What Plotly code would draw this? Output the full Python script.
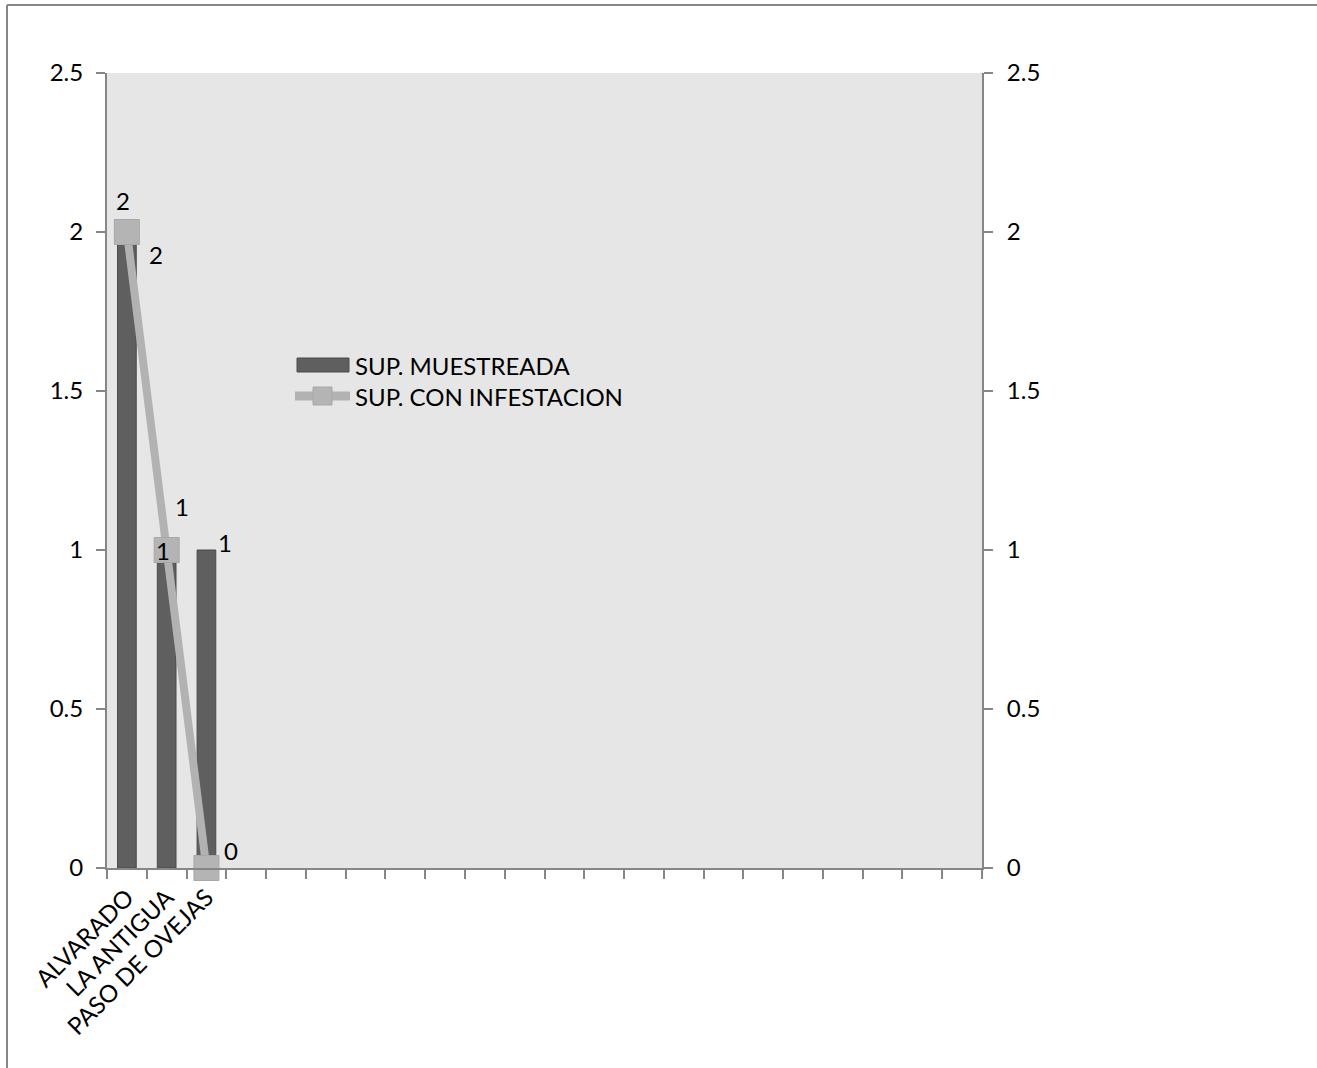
import plotly.graph_objects as go

# ---- data ----
categories = ["ALVARADO", "LA ANTIGUA", "PASO DE OVEJAS"]
# empty category slots shown on the axis (the source chart reserves 22 slots)
empty_slots = [" " * (i + 1) for i in range(19)]
sup_muestreada = [2, 1, 1]
sup_con_infestacion = [2, 1, 0]
y_ticks = [0, 0.5, 1, 1.5, 2, 2.5]
series_names = ["SUP. MUESTREADA", "SUP. CON INFESTACION"]

all_cats = categories + empty_slots

FONT = "Lato"
FS = 24
AXIS_COLOR = "#868686"
BAR_COLOR = "#5f5f5f"
BAR_EDGE = "#4a4a4a"
LINE_COLOR = "#b2b2b2"
MARK_COLOR = "#b4b4b4"

W, H = 1317, 1068
L, R, T, B = 107, 335, 73, 200
PW, PH = W - L - R, H - T - B


def px_x(p):
    return (p - L) / PW


def px_y(p):
    return (H - B - p) / PH


fig = go.Figure()

fig.add_trace(go.Bar(
    x=categories, y=sup_muestreada, name=series_names[0],
    marker=dict(color=BAR_COLOR, line=dict(color=BAR_EDGE, width=1)),
    width=0.47, yaxis="y",
))
fig.add_trace(go.Scatter(
    x=categories, y=sup_con_infestacion, name=series_names[1],
    mode="lines+markers",
    line=dict(color=LINE_COLOR, width=8),
    marker=dict(symbol="square", size=25, color=MARK_COLOR,
                line=dict(color="#a8a8a8", width=1)),
    yaxis="y2", cliponaxis=False,
))

# data labels (pixel offsets, as placed in the source chart)
bar_offsets = [(29, -22), (15, 44), (19, 8)]
line_offsets = [(-4, 32), (-4, 0), (25, 18)]
for c, v, (dx, dy) in zip(categories, sup_muestreada, bar_offsets):
    fig.add_annotation(x=c, y=v, yref="y", text=str(v), showarrow=False,
                       xshift=dx, yshift=dy, font=dict(family=FONT, size=FS, color="black"))
for c, v, (dx, dy) in zip(categories, sup_con_infestacion, line_offsets):
    fig.add_annotation(x=c, y=v, yref="y2", text=str(v), showarrow=False,
                       xshift=dx, yshift=dy, font=dict(family=FONT, size=FS, color="black"))

axis_common = dict(
    range=[0, 2.5], tickvals=y_ticks, ticktext=[f"{t:g}" for t in y_ticks],
    showgrid=False, zeroline=False, showline=True, linecolor=AXIS_COLOR, linewidth=2,
    ticks="outside", ticklen=9, tickcolor=AXIS_COLOR, tickwidth=2,
    tickfont=dict(family=FONT, size=FS, color="black"),
)

fig.update_layout(
    width=W, height=H,
    margin=dict(l=L, r=R, t=T, b=B),
    paper_bgcolor="white", plot_bgcolor="#e6e6e6",
    font=dict(family=FONT, size=FS, color="black"),
    xaxis=dict(
        type="category", categoryorder="array", categoryarray=all_cats,
        range=[-0.5, len(all_cats) - 0.5],
        tickson="boundaries", ticks="outside", ticklen=9, tickcolor=AXIS_COLOR, tickwidth=2,
        showline=True, linecolor=AXIS_COLOR, linewidth=2, showgrid=False,
        tickangle=-45, tickfont=dict(family=FONT, size=FS, color="black"),
        ticklabelstandoff=4,
    ),
    yaxis=dict(**axis_common, ticklabelstandoff=8),
    yaxis2=dict(**axis_common, overlaying="y", side="right", ticklabelstandoff=9),
    showlegend=False,
)

# custom legend (wide bar swatch and line+marker swatch as in the source)
fig.add_shape(type="rect", xref="paper", yref="paper",
              x0=px_x(297), x1=px_x(349), y0=px_y(372), y1=px_y(358),
              fillcolor=BAR_COLOR, line=dict(color=BAR_EDGE, width=1))
fig.add_shape(type="line", xref="paper", yref="paper",
              x0=px_x(295), x1=px_x(350), y0=px_y(396), y1=px_y(396),
              line=dict(color=LINE_COLOR, width=9))
fig.add_shape(type="rect", xref="paper", yref="paper",
              x0=px_x(313), x1=px_x(332), y0=px_y(405), y1=px_y(387),
              fillcolor=MARK_COLOR, line=dict(color="#a8a8a8", width=1))
for name, yy in zip(series_names, [365, 396]):
    fig.add_annotation(xref="paper", yref="paper", x=px_x(353), y=px_y(yy),
                       xanchor="left", yanchor="middle", text=name, showarrow=False,
                       font=dict(family=FONT, size=FS, color="black"))

# outer chart frame (cropped at right/bottom in the source image)
fig.add_shape(type="line", xref="paper", yref="paper", x0=px_x(7), x1=px_x(1330),
              y0=px_y(5), y1=px_y(5), line=dict(color=AXIS_COLOR, width=2))
fig.add_shape(type="line", xref="paper", yref="paper", x0=px_x(7), x1=px_x(7),
              y0=px_y(5), y1=px_y(1080), line=dict(color=AXIS_COLOR, width=2))

fig.write_html("out.html", config={"displayModeBar": False},
               post_script="document.body.style.margin='0px';")
